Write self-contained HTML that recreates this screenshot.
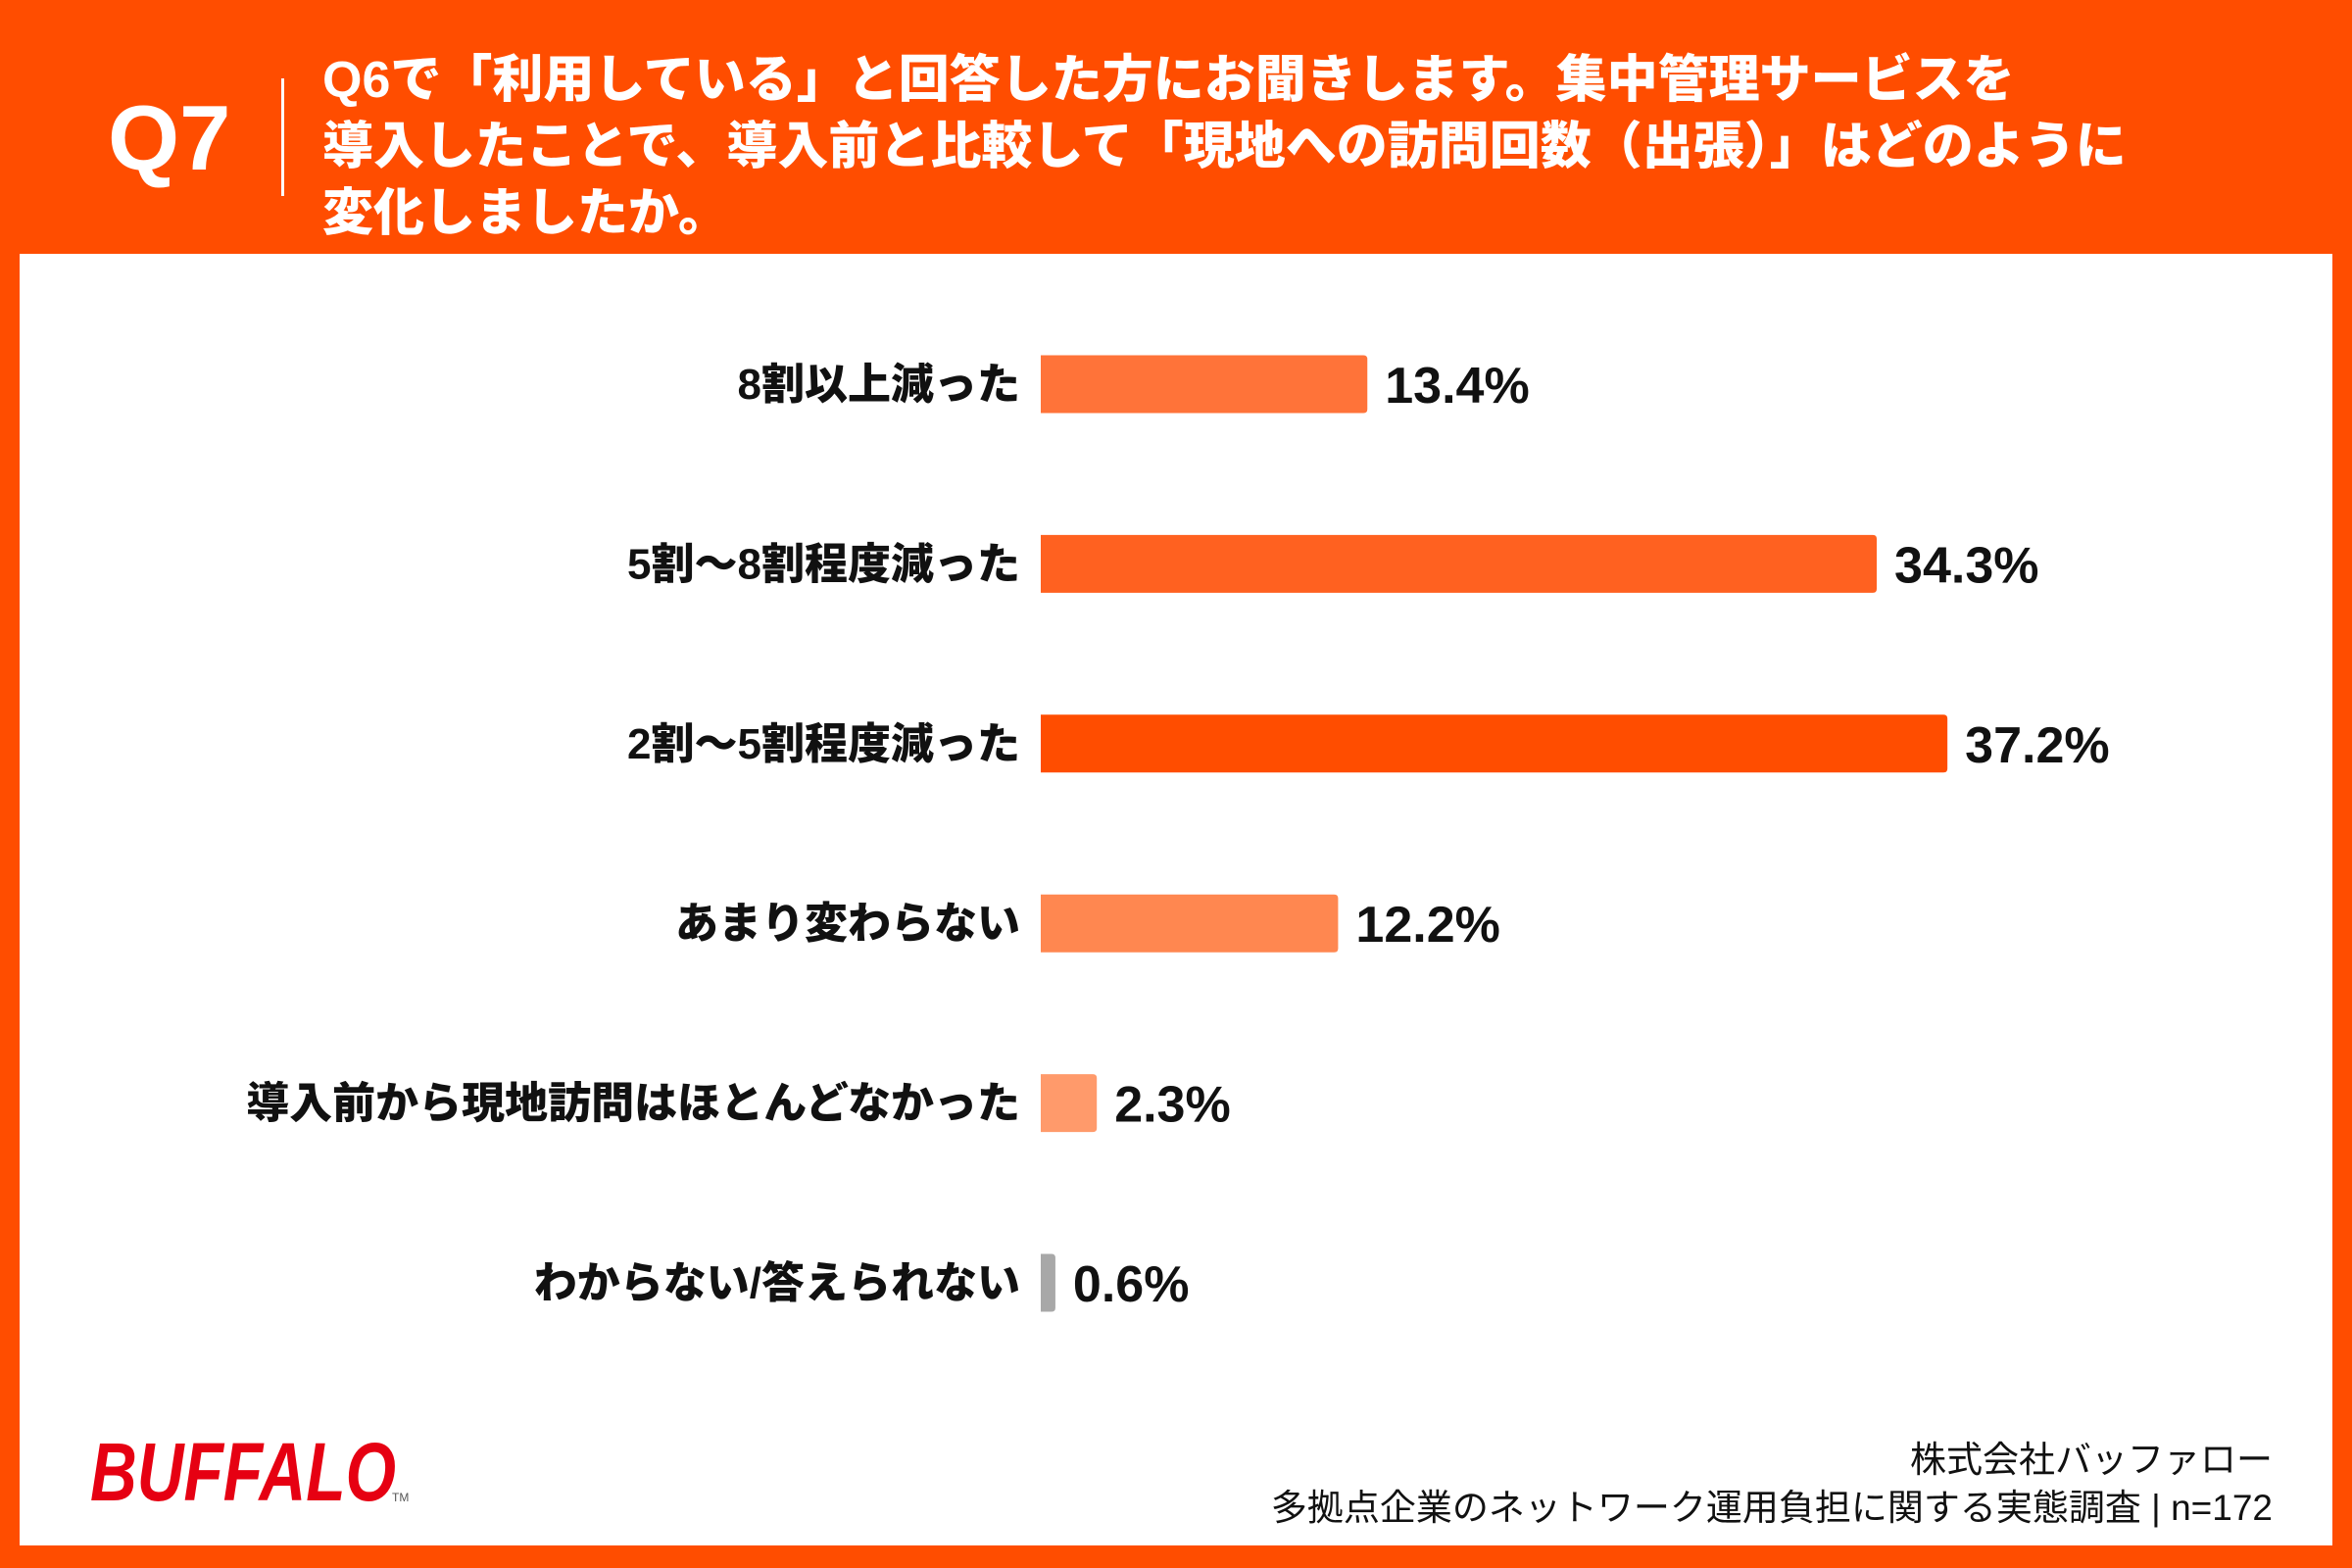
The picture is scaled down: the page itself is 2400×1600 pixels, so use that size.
<!DOCTYPE html>
<html><head><meta charset="utf-8"><style>
html,body{margin:0;padding:0;width:2400px;height:1600px;overflow:hidden;background:#FF4D00}
svg{display:block}
</style></head><body>
<svg id="chart" width="2400" height="1600" xmlns="http://www.w3.org/2000/svg" font-family="'Liberation Sans','Noto Sans CJK JP',sans-serif">
<rect x="0" y="0" width="2400" height="1600" fill="#FF4D00"/>
<rect x="20" y="259" width="2360" height="1318" fill="#FFFFFF"/>
<text x="110" y="173" font-size="94" font-weight="bold" fill="#fff">Q7</text>
<rect x="287" y="80" width="3" height="120" fill="#fff"/>
<g fill="#fff" font-size="52" font-weight="900" font-family="'Liberation Sans','Noto Sans CJK JP',sans-serif">
<text x="329" y="99">Q6で「利用している」と回答した方にお聞きします。集中管理サービスを</text>
<text x="329" y="167">導入したことで、導入前と比較して「現地への訪問回数（出張）」はどのように</text>
<text x="329" y="235">変化しましたか。</text>
</g>
<g id="bars"></g>
<text x="92" y="1531" font-size="84" font-weight="bold" font-style="italic" fill="#E60012" textLength="312" lengthAdjust="spacingAndGlyphs">BUFFALO</text>
<text x="400" y="1532" font-size="12" fill="#555">TM</text>
<text x="2319" y="1502" font-size="37" text-anchor="end" fill="#111">株式会社バッファロー</text>
<text x="2319" y="1551" font-size="37" text-anchor="end" fill="#111">多拠点企業のネットワーク運用負担に関する実態調査 | n=172</text>
</svg>
<script>
const categories = ["8割以上減った","5割〜8割程度減った","2割〜5割程度減った","あまり変わらない","導入前から現地訪問はほとんどなかった","わからない/答えられない"];
const values = [13.4, 34.3, 37.2, 12.2, 2.3, 0.6];
const valueLabels = ["13.4%","34.3%","37.2%","12.2%","2.3%","0.6%"];
const colors = ["#FF7339","#FF6120","#FF4D00","#FF8750","#FF9A6B","#A8A8A8"];

const NS = "http://www.w3.org/2000/svg";
const x0 = 1062, pxPerPct = 24.87;
const yStart = 392, yStep = 183.4, barH = 59;
function xScale(v){ return x0 + v * pxPerPct; }
function yScale(i){ return yStart + i * yStep; }
const g = document.getElementById('bars');
categories.forEach((c, i) => {
  const cy = yScale(i);
  const lab = document.createElementNS(NS, 'text');
  
  
  lab.setAttribute('x', 1041); lab.setAttribute('y', cy + 15);
  lab.setAttribute('text-anchor', 'end'); lab.setAttribute('font-size', '44');
  lab.setAttribute('font-weight', '900'); lab.setAttribute('fill', '#111');
  lab.textContent = c; g.appendChild(lab);
  const r = document.createElementNS(NS, 'path');
  
  
  const x1 = xScale(values[i]), w = x1 - x0, rr = Math.min(4, w / 2), top = cy - barH / 2, bot = cy + barH / 2;
  r.setAttribute('d', `M${x0},${top} H${x1-rr} Q${x1},${top} ${x1},${top+rr} V${bot-rr} Q${x1},${bot} ${x1-rr},${bot} H${x0} Z`);
  r.setAttribute('fill', colors[i]); g.appendChild(r);
  const vl = document.createElementNS(NS, 'text');
  
  
  vl.setAttribute('x', x1 + 18); vl.setAttribute('y', cy + 19);
  vl.setAttribute('font-size', '52'); vl.setAttribute('font-weight', 'bold'); vl.setAttribute('fill', '#111');
  vl.textContent = valueLabels[i]; g.appendChild(vl);
});
</script>
</body></html>
